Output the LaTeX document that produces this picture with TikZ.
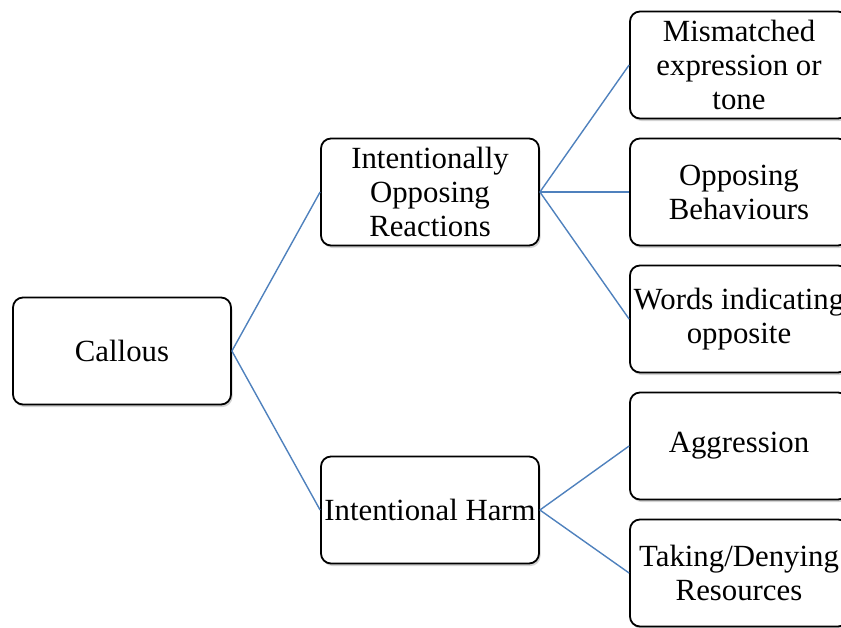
\documentclass[tikz,border=0pt]{standalone}
\usepackage{fontspec}
\setmainfont{Liberation Serif}
\usetikzlibrary{shadows}
\definecolor{ink}{HTML}{000000}
\definecolor{link}{HTML}{4F81BD}

\begin{document}
\begin{tikzpicture}[
  x=1pt, y=-1pt,
  font=\fontsize{30.8}{34}\selectfont,
  box/.style={draw=ink, line width=1.8pt, rounded corners=10pt, fill=white, align=center,
              minimum width=218pt, minimum height=107pt, inner sep=1pt,
              drop shadow={opacity=0.35, shadow xshift=1.5pt, shadow yshift=-2.5pt}},
  link/.style={draw=link, line width=1.4pt}
]
\useasboundingbox (0,0) rectangle (841,627);
% ---------------- root
\node[box] (callous) at (122,351) {Callous};
% ---------------- middle
\node[box] (oppose) at (430,192) {Intentionally\\Opposing\\Reactions};
\node[box] (harm) at (430,510) {Intentional Harm};
% ---------------- leaves
\node[box] (tone) at (739,65) {Mismatched\\expression or\\tone};
\node[box] (behav) at (739,192) {Opposing\\Behaviours};
\node[box] (words) at (739,319) {Words indicating\\opposite};
\node[box] (aggr) at (739,446) {Aggression};
\node[box] (deny) at (739,573) {Taking/Denying\\Resources};
% ---------------- links
\draw[link] (callous.east) -- (oppose.west);
\draw[link] (callous.east) -- (harm.west);
\draw[link] (oppose.east) -- (tone.west);
\draw[link] (oppose.east) -- (behav.west);
\draw[link] (oppose.east) -- (words.west);
\draw[link] (harm.east) -- (aggr.west);
\draw[link] (harm.east) -- (deny.west);
\end{tikzpicture}
\end{document}
